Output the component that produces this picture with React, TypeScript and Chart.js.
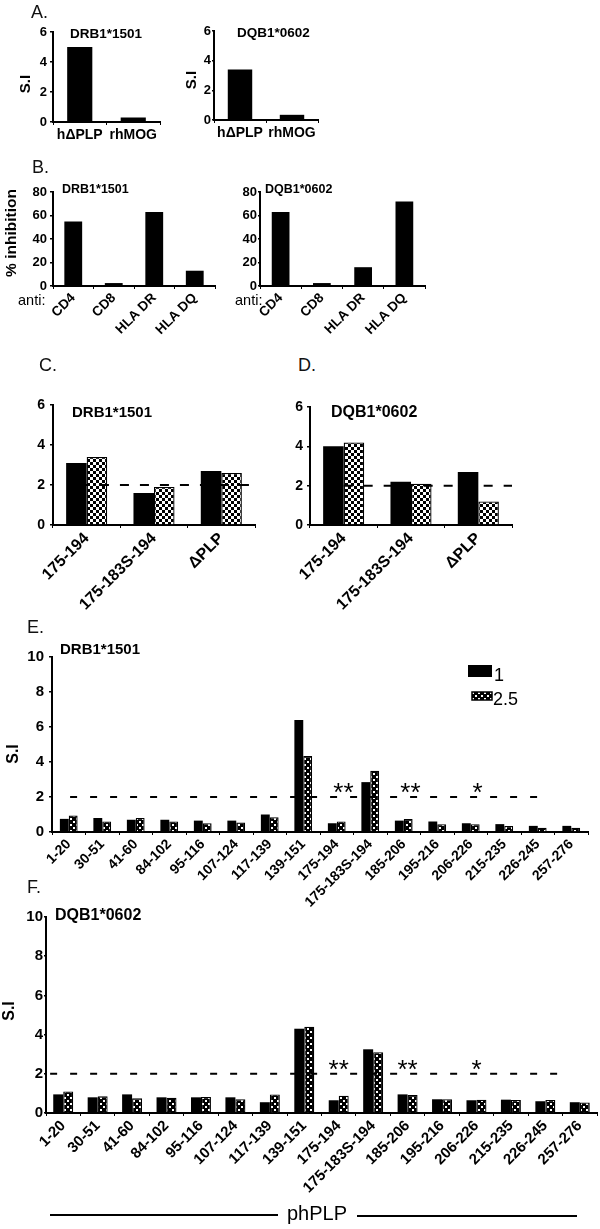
import React, { useEffect, useRef } from "react";
import { Chart, registerables } from "chart.js";

Chart.register(...registerables);

const FONT = "'Liberation Sans', Arial, Helvetica, sans-serif";

// ---------------- data ----------------
// Panel A: proliferation (S.I) to antigens
const antigenCats = ["h\u0394PLP", "rhMOG"];
const antigenSI_DRB = [5.0, 0.3];
const antigenSI_DQB = [3.4, 0.35];

// Panel B: % inhibition by blocking antibodies
const antibodyCats = ["CD4", "CD8", "HLA DR", "HLA DQ"];
const inhibitionDRB = [55, 2.5, 63, 13];
const inhibitionDQB = [63, 2.5, 16, 72];

// Panels C / D: peptide variants, two doses
const variantCats = ["175-194", "175-183S-194", "\u0394PLP"];
const variantDRB_dose1 = [3.1, 1.6, 2.7];
const variantDRB_dose25 = [3.4, 1.9, 2.6];
const variantDQB_dose1 = [4.0, 2.2, 2.7];
const variantDQB_dose25 = [4.2, 2.1, 1.2];

// Panels E / F: peptide scan, two doses
const peptideCats = [
  "1-20", "30-51", "41-60", "84-102", "95-116", "107-124", "117-139", "139-151",
  "175-194", "175-183S-194", "185-206", "195-216", "206-226", "215-235", "226-245", "257-276",
];
const peptideDRB_dose1 = [0.75, 0.8, 0.7, 0.7, 0.65, 0.65, 1.0, 6.4, 0.5, 2.85, 0.65, 0.6, 0.5, 0.45, 0.35, 0.35];
const peptideDRB_dose25 = [0.95, 0.6, 0.8, 0.6, 0.5, 0.55, 0.85, 4.35, 0.6, 3.5, 0.75, 0.45, 0.45, 0.35, 0.25, 0.25];
const peptideDQB_dose1 = [0.95, 0.8, 0.95, 0.8, 0.8, 0.8, 0.55, 4.3, 0.65, 3.25, 0.95, 0.7, 0.65, 0.68, 0.6, 0.55];
const peptideDQB_dose25 = [1.1, 0.85, 0.75, 0.78, 0.82, 0.7, 0.95, 4.4, 0.88, 3.1, 0.92, 0.7, 0.68, 0.66, 0.66, 0.54];

const doseLabels = ["1", "2.5"];
const threshold = 2;
const sigIndex = [8, 10, 12];
const sigMarks = ["**", "**", "*"];

// ---------------- layout specs ----------------
type Box = { l: number; t: number; w: number; h: number };
type Area = { x0: number; x1: number; yTop: number; y0: number };
type Txt = { s: string; x: number; y: number; size: number; bold?: boolean; rot?: boolean };
type Spec = {
  box: Box;
  area: Area;
  labels: string[];
  series: number[][];
  yMax: number;
  step: number;
  barPct: number;
  catPct: number;
  rot: number;
  xSize: number;
  ySize: number;
  yPad: number;
  yTick: number;
  fill2?: "check" | "dots";
  texts: Txt[];
  dash?: { from: number; to: number; pat: number[] };
  stars?: { offset: number };
  legend?: boolean;
};

const specs: Spec[] = [
  {
    box: { l: 0, t: 15, w: 175, h: 130 },
    area: { x0: 53, x1: 160, yTop: 32, y0: 122 },
    labels: antigenCats, series: [antigenSI_DRB], yMax: 6, step: 2,
    barPct: 0.47, catPct: 1, rot: 0, xSize: 14, ySize: 13, yPad: 3, yTick: 3,
    texts: [
      { s: "DRB1*1501", x: 70, y: 38, size: 13.5, bold: true },
      { s: "S.I", x: 26, y: 84, size: 15, bold: true, rot: true },
    ],
  },
  {
    box: { l: 180, t: 15, w: 150, h: 130 },
    area: { x0: 214, x1: 318, yTop: 31, y0: 120 },
    labels: antigenCats, series: [antigenSI_DQB], yMax: 6, step: 2,
    barPct: 0.47, catPct: 1, rot: 0, xSize: 14, ySize: 13, yPad: 1, yTick: 2,
    texts: [
      { s: "DQB1*0602", x: 237, y: 37, size: 13.5, bold: true },
      { s: "S.I", x: 192, y: 80, size: 15, bold: true, rot: true },
    ],
  },
  {
    box: { l: 0, t: 170, w: 230, h: 175 },
    area: { x0: 53, x1: 215, yTop: 192, y0: 286 },
    labels: antibodyCats, series: [inhibitionDRB], yMax: 80, step: 20,
    barPct: 0.44, catPct: 1, rot: 45, xSize: 13.5, ySize: 13, yPad: 3, yTick: 3,
    texts: [
      { s: "DRB1*1501", x: 62, y: 193, size: 12.5, bold: true },
      { s: "% inhibition", x: 12, y: 233, size: 15.5, bold: true, rot: true },
      { s: "anti:", x: 18, y: 305, size: 14.5 },
    ],
  },
  {
    box: { l: 230, t: 170, w: 210, h: 175 },
    area: { x0: 260, x1: 425, yTop: 192, y0: 286 },
    labels: antibodyCats, series: [inhibitionDQB], yMax: 80, step: 20,
    barPct: 0.43, catPct: 1, rot: 45, xSize: 13.5, ySize: 13, yPad: 1, yTick: 2,
    texts: [
      { s: "DQB1*0602", x: 265, y: 193, size: 12.5, bold: true },
      { s: "anti:", x: 235, y: 305, size: 14.5 },
    ],
  },
  {
    box: { l: 0, t: 390, w: 270, h: 235 },
    area: { x0: 53, x1: 255, yTop: 405, y0: 525 },
    labels: variantCats, series: [variantDRB_dose1, variantDRB_dose25], yMax: 6, step: 2,
    barPct: 1, catPct: 0.61, rot: 45, xSize: 16, ySize: 14, yPad: 5, yTick: 3, fill2: "check",
    texts: [{ s: "DRB1*1501", x: 72, y: 417, size: 15, bold: true }],
    dash: { from: -0.1, to: 2.5, pat: [9, 11] },
  },
  {
    box: { l: 270, t: 390, w: 260, h: 235 },
    area: { x0: 310, x1: 512, yTop: 407, y0: 525 },
    labels: variantCats, series: [variantDQB_dose1, variantDQB_dose25], yMax: 6, step: 2,
    barPct: 1, catPct: 0.61, rot: 45, xSize: 16, ySize: 14, yPad: 4, yTick: 3, fill2: "check",
    texts: [{ s: "DQB1*0602", x: 331, y: 417, size: 16, bold: true }],
    dash: { from: 0, to: 2.5, pat: [9, 11] },
  },
  {
    box: { l: 0, t: 640, w: 600, h: 268 },
    area: { x0: 52, x1: 588, yTop: 657, y0: 832 },
    labels: peptideCats, series: [peptideDRB_dose1, peptideDRB_dose25], yMax: 10, step: 2,
    barPct: 1, catPct: 0.53, rot: 45, xSize: 14, ySize: 15, yPad: 5, yTick: 3, fill2: "dots",
    texts: [
      { s: "DRB1*1501", x: 60, y: 654, size: 15, bold: true },
      { s: "S.I", x: 14, y: 754, size: 16, bold: true, rot: true },
    ],
    dash: { from: 0.04, to: 14.16, pat: [7, 13] },
    stars: { offset: 0.2 },
    legend: true,
  },
  {
    box: { l: 0, t: 895, w: 600, h: 308 },
    area: { x0: 46, x1: 597, yTop: 917, y0: 1113 },
    labels: peptideCats, series: [peptideDQB_dose1, peptideDQB_dose25], yMax: 10, step: 2,
    barPct: 1, catPct: 0.58, rot: 45, xSize: 15, ySize: 15, yPad: 1, yTick: 2, fill2: "dots",
    texts: [
      { s: "DQB1*0602", x: 55, y: 920, size: 16, bold: true },
      { s: "S.I", x: 10, y: 1011, size: 16, bold: true, rot: true },
    ],
    dash: { from: -0.38, to: 14.53, pat: [7, 13] },
    stars: { offset: 0 },
  },
];

const panelLetters = [
  { s: "A.", x: 31, y: 5 },
  { s: "B.", x: 32, y: 160 },
  { s: "C.", x: 39, y: 358 },
  { s: "D.", x: 298, y: 358 },
  { s: "E.", x: 27, y: 620 },
  { s: "F.", x: 27, y: 880 },
];

// ---------------- helpers ----------------
function makePattern(ctx: CanvasRenderingContext2D, kind: string) {
  const c = document.createElement("canvas");
  c.width = 6;
  c.height = 6;
  const g = c.getContext("2d")!;
  if (kind === "dots") {
    g.fillStyle = "#000";
    g.fillRect(0, 0, 6, 6);
    g.fillStyle = "#fff";
    g.fillRect(1, 1, 2, 2);
    g.fillRect(4, 4, 2, 2);
  } else {
    g.fillStyle = "#fff";
    g.fillRect(0, 0, 6, 6);
    g.fillStyle = "#000";
    g.fillRect(0, 0, 3, 3);
    g.fillRect(3, 3, 3, 3);
  }
  return ctx.createPattern(c, "repeat")!;
}

function buildConfig(spec: Spec, canvas: HTMLCanvasElement): any {
  const ctx0 = canvas.getContext("2d")!;
  const pat = makePattern(ctx0, spec.fill2 || "check");
  const { box, area } = spec;

  const datasets = spec.series.map((data, i) => ({
    label: spec.series.length > 1 ? doseLabels[i] : "S.I",
    data,
    backgroundColor: i === 0 ? "#000" : pat,
    borderColor: "#000",
    borderWidth: i === 0 ? 0 : 1.3,
    barPercentage: spec.barPct,
    categoryPercentage: spec.catPct,
  }));

  const overlay = {
    id: "overlay",
    afterDatasetsDraw(chart: any) {
      const ctx: CanvasRenderingContext2D = chart.ctx;
      const xs = chart.scales.x;
      const ys = chart.scales.y;
      const ox = box.l;
      const oy = box.t;
      ctx.save();
      if (spec.dash) {
        const yy = ys.getPixelForValue(threshold);
        ctx.strokeStyle = "#000";
        ctx.lineWidth = 2;
        ctx.setLineDash(spec.dash.pat);
        ctx.beginPath();
        ctx.moveTo(xs.getPixelForValue(spec.dash.from), yy);
        ctx.lineTo(xs.getPixelForValue(spec.dash.to), yy);
        ctx.stroke();
        ctx.setLineDash([]);
      }
      if (spec.stars) {
        const yy = ys.getPixelForValue(threshold) + 4;
        ctx.fillStyle = "#000";
        ctx.font = `26px ${FONT}`;
        ctx.textAlign = "center";
        ctx.textBaseline = "alphabetic";
        sigIndex.forEach((idx, k) => {
          ctx.fillText(sigMarks[k], xs.getPixelForValue(idx + spec.stars!.offset), yy);
        });
      }
      for (const t of spec.texts) {
        ctx.fillStyle = "#000";
        ctx.font = `${t.bold ? "bold " : ""}${t.size}px ${FONT}`;
        if (t.rot) {
          ctx.save();
          ctx.translate(t.x - ox, t.y - oy);
          ctx.rotate(-Math.PI / 2);
          ctx.textAlign = "center";
          ctx.textBaseline = "middle";
          ctx.fillText(t.s, 0, 0);
          ctx.restore();
        } else {
          ctx.textAlign = "left";
          ctx.textBaseline = "alphabetic";
          ctx.fillText(t.s, t.x - ox, t.y - oy);
        }
      }
      if (spec.legend) {
        ctx.fillStyle = "#000";
        ctx.fillRect(468 - ox, 665 - oy, 24, 12);
        ctx.fillStyle = pat;
        ctx.fillRect(472 - ox, 692 - oy, 20, 8);
        ctx.strokeStyle = "#000";
        ctx.lineWidth = 1.5;
        ctx.strokeRect(472 - ox, 692 - oy, 20, 8);
        ctx.fillStyle = "#000";
        ctx.font = `18px ${FONT}`;
        ctx.textAlign = "left";
        ctx.textBaseline = "alphabetic";
        ctx.fillText(doseLabels[0], 494 - ox, 681 - oy);
        ctx.fillText(doseLabels[1], 493 - ox, 705 - oy);
      }
      ctx.restore();
    },
  };

  return {
    type: "bar",
    data: { labels: spec.labels, datasets },
    options: {
      responsive: false,
      maintainAspectRatio: false,
      animation: false,
      events: [],
      layout: {
        padding: {
          left: 0,
          top: area.yTop - box.t,
          right: box.l + box.w - area.x1,
          bottom: 0,
        },
      },
      plugins: { legend: { display: false }, tooltip: { enabled: false }, title: { display: false } },
      scales: {
        x: {
          grid: { display: true, drawOnChartArea: false, tickLength: 3, color: "#000", lineWidth: 1 },
          border: { display: true, color: "#000", width: 2 },
          ticks: {
            color: "#000",
            font: { family: FONT, size: spec.xSize, weight: "bold" },
            minRotation: spec.rot,
            maxRotation: spec.rot,
            autoSkip: false,
            padding: spec.rot ? 1 : 2,
          },
          afterFit: (s: any) => {
            s.height = box.t + box.h - area.y0;
            s.paddingLeft = 0;
            s.paddingRight = 0;
          },
        },
        y: {
          min: 0,
          max: spec.yMax,
          grid: { display: true, drawOnChartArea: false, tickLength: spec.yTick, color: "#000", lineWidth: 1.5 },
          border: { display: true, color: "#000", width: 2 },
          ticks: {
            stepSize: spec.step,
            color: "#000",
            font: { family: FONT, size: spec.ySize, weight: "bold" },
            padding: spec.yPad,
          },
          afterFit: (s: any) => {
            s.width = area.x0 - box.l;
            s.paddingTop = 0;
            s.paddingBottom = 0;
          },
        },
      },
    },
    plugins: [overlay],
  };
}

function ChartPanel({ spec }: { spec: Spec }) {
  const ref = useRef<HTMLCanvasElement>(null);
  useEffect(() => {
    const canvas = ref.current!;
    const chart = new Chart(canvas, buildConfig(spec, canvas));
    return () => chart.destroy();
  }, [spec]);
  return (
    <canvas
      ref={ref}
      width={spec.box.w}
      height={spec.box.h}
      style={{
        position: "absolute",
        left: spec.box.l,
        top: spec.box.t,
        width: spec.box.w,
        height: spec.box.h,
      }}
    />
  );
}

export default function App() {
  return (
    <div
      style={{
        position: "absolute",
        left: 0,
        top: 0,
        width: 600,
        height: 1229,
        background: "#fff",
        overflow: "hidden",
        fontFamily: FONT,
      }}
    >
      {specs.map((s, i) => (
        <ChartPanel key={i} spec={s} />
      ))}
      {panelLetters.map((p) => (
        <div
          key={p.s}
          style={{
            position: "absolute",
            left: p.x,
            top: p.y - 2,
            font: `18px ${FONT}`,
            lineHeight: "18px",
            color: "#111",
            whiteSpace: "nowrap",
          }}
        >
          {p.s}
        </div>
      ))}
      <div style={{ position: "absolute", left: 50, top: 1214, width: 228, height: 2, background: "#000" }} />
      <div
        style={{
          position: "absolute",
          left: 287,
          top: 1203,
          font: `20px ${FONT}`,
          lineHeight: "20px",
          color: "#000",
          whiteSpace: "nowrap",
        }}
      >
        phPLP
      </div>
      <div style={{ position: "absolute", left: 357, top: 1215, width: 220, height: 2, background: "#000" }} />
    </div>
  );
}
